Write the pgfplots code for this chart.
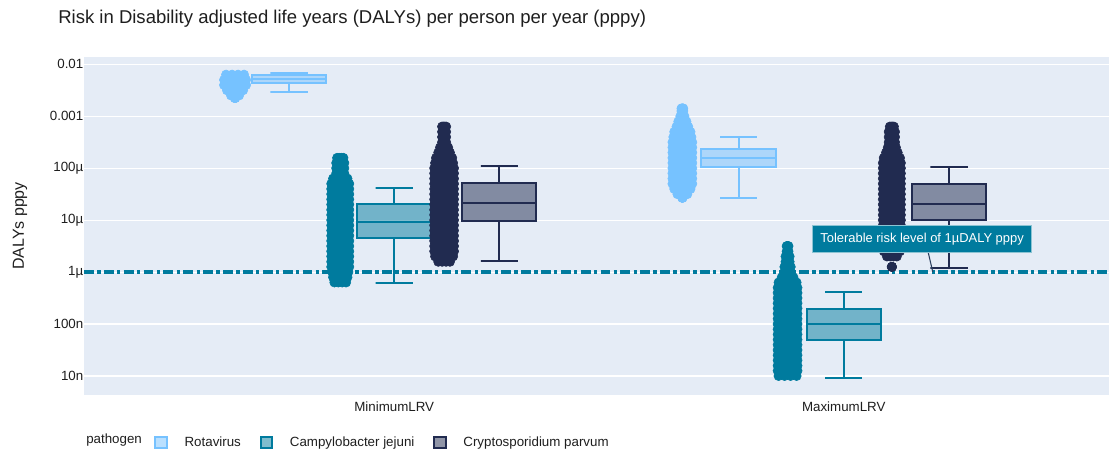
\documentclass[border=0pt]{standalone}
\usepackage{fontspec}
\setmainfont{Liberation Sans}
\usepackage{pgfplots}
\pgfplotsset{compat=1.18}
\usepackage{pgfplotstable}

\definecolor{bg}{RGB}{229,236,246}
\definecolor{rota}{RGB}{118,194,255}
\definecolor{campy}{RGB}{0,123,158}
\definecolor{crypto}{RGB}{33,43,80}
\definecolor{ink}{RGB}{30,30,30}
\definecolor{arrowc}{RGB}{42,63,95}

% jitter strips: y = DALYs pppy, w = half width of the strip (axis units)
\pgfplotstableread{
y w
6.31e-3 0.020
5.01e-3 0.0245
3.98e-3 0.0245
3.16e-3 0.018
2.51e-3 0.009
2.24e-3 0.0
}\rotaMin

\pgfplotstableread{
y w
1.58e-4 0.007
1.26e-4 0.009
1.00e-4 0.009
7.94e-5 0.009
6.31e-5 0.016
5.01e-5 0.020
3.98e-5 0.020
3.16e-5 0.020
2.51e-5 0.020
2.00e-5 0.020
1.58e-5 0.020
1.26e-5 0.020
1.00e-5 0.020
7.94e-6 0.020
6.31e-6 0.020
5.01e-6 0.020
3.98e-6 0.020
3.16e-6 0.020
2.51e-6 0.020
2.00e-6 0.020
1.58e-6 0.020
1.26e-6 0.020
1.00e-6 0.018
7.94e-7 0.016
6.31e-7 0.013
}\campyMin

\pgfplotstableread{
y w
6.31e-4 0.0045
5.01e-4 0.0045
3.98e-4 0.0045
3.16e-4 0.0045
2.51e-4 0.009
2.00e-4 0.013
1.58e-4 0.018
1.26e-4 0.020
1.00e-4 0.022
7.94e-5 0.022
6.31e-5 0.022
5.01e-5 0.022
3.98e-5 0.022
3.16e-5 0.022
2.51e-5 0.022
2.00e-5 0.022
1.58e-5 0.022
1.26e-5 0.022
1.00e-5 0.022
7.94e-6 0.022
6.31e-6 0.022
5.01e-6 0.022
3.98e-6 0.022
3.16e-6 0.022
2.51e-6 0.022
2.00e-6 0.020
1.58e-6 0.013
}\cryptoMin

\pgfplotstableread{
y w
1.41e-3 0.002
1.26e-3 0.002
1.00e-3 0.0045
7.94e-4 0.009
6.31e-4 0.013
5.01e-4 0.018
3.98e-4 0.020
3.16e-4 0.022
2.51e-4 0.022
2.00e-4 0.022
1.58e-4 0.022
1.26e-4 0.022
1.00e-4 0.022
7.94e-5 0.022
6.31e-5 0.022
5.01e-5 0.022
3.98e-5 0.018
3.16e-5 0.011
2.69e-5 0.0
}\rotaMax

\pgfplotstableread{
y w
3.16e-6 0.002
2.51e-6 0.002
2.00e-6 0.0045
1.58e-6 0.0045
1.26e-6 0.007
1.00e-6 0.007
7.94e-7 0.013
6.31e-7 0.020
5.01e-7 0.022
3.98e-7 0.022
3.16e-7 0.022
2.51e-7 0.022
2.00e-7 0.022
1.58e-7 0.022
1.26e-7 0.022
1.00e-7 0.022
7.94e-8 0.022
6.31e-8 0.022
5.01e-8 0.022
3.98e-8 0.022
3.16e-8 0.022
2.51e-8 0.022
2.00e-8 0.022
1.58e-8 0.022
1.26e-8 0.022
1.00e-8 0.020
}\campyMax

\pgfplotstableread{
y w
6.31e-4 0.0045
5.01e-4 0.007
3.98e-4 0.007
3.16e-4 0.007
2.51e-4 0.009
2.00e-4 0.013
1.58e-4 0.018
1.26e-4 0.020
1.00e-4 0.020
7.94e-5 0.020
6.31e-5 0.020
5.01e-5 0.020
3.98e-5 0.020
3.16e-5 0.020
2.51e-5 0.020
2.00e-5 0.020
1.58e-5 0.020
1.26e-5 0.020
1.00e-5 0.020
7.94e-6 0.020
6.31e-6 0.020
5.01e-6 0.020
3.98e-6 0.020
3.16e-6 0.020
2.51e-6 0.018
2.00e-6 0.011
1.26e-6 0.0
}\cryptoMax

\pgfplotsset{
  swatch/.style={legend image code/.code={%
    \draw[##1, line width=1.5pt] (0.75pt,-4.4pt) rectangle (9.5pt,4.4pt);}},
}

% strip of points: table, centre, colour
\newcommand{\strip}[3]{%
  \pgfplotsinvokeforeach{-1,-0.333,0.333,1}{%
    \addplot[forget plot, only marks, mark=*, mark size=3.5pt, color=#3]
      table[x expr={#2+(##1)*\thisrow{w}}, y=y] {#1};
  }%
}
% box: colour, position, lower whisker, q1, median, q3, upper whisker
% (box half width 0.0825, cap half width 0.041)
\newcommand{\pbox}[7]{%
  \addplot[forget plot, draw=#1, fill=#1, fill opacity=0.5, line width=1.5pt]
    table[x expr={#2+\thisrow{d}*0.0825}, y=y, row sep=\\]
    {d y\\ -1 #4\\ 1 #4\\ 1 #6\\ -1 #6\\} -- cycle;
  \addplot[forget plot, draw=#1, line width=1.5pt]
    table[x expr={#2+\thisrow{d}*0.0825}, y=y, row sep=\\]
    {d y\\ -1 #5\\ 1 #5\\};
  \addplot[forget plot, draw=#1, line width=1.5pt]
    table[x expr={#2+\thisrow{d}*0.0825}, y=y, row sep=\\]
    {d y\\ 0 #6\\ 0 #7\\ -0.5 #7\\ 0.5 #7\\};
  \addplot[forget plot, draw=#1, line width=1.5pt]
    table[x expr={#2+\thisrow{d}*0.0825}, y=y, row sep=\\]
    {d y\\ 0 #4\\ 0 #3\\ -0.5 #3\\ 0.5 #3\\};
}

\begin{document}
\begin{tikzpicture}
\path[use as bounding box] (0,0) rectangle (831.75pt,340.5pt);
\node[anchor=west, inner sep=0pt, text=ink, font=\fontsize{13.9}{16}\selectfont]
  at (43.5pt,326.5pt) {Risk in Disability adjusted life years (DALYs) per person per year (pppy)};
\node[anchor=west, inner sep=0pt, text=ink, font=\fontsize{10}{12}\selectfont]
  at (64.5pt,10.5pt) {pathogen};

\begin{axis}[
  at={(63pt,44.25pt)}, anchor=south west,
  width=768.75pt, height=253.5pt, scale only axis,
  ymode=log, ymin=4.3e-9, ymax=1.38e-2,
  xmin=-0.690, xmax=1.590,
  axis background/.style={fill=bg},
  axis line style={draw=none},
  major tick length=0pt, minor tick length=0pt,
  ymajorgrids, grid style={white, line width=0.8pt},
  ytick={1e-8,1e-7,1e-6,1e-5,1e-4,1e-3,1e-2},
  yticklabels={10n,100n,1µ,10µ,100µ,0.001,0.01},
  xtick={0,1},
  xticklabels={MinimumLRV,MaximumLRV},
  tick label style={font=\fontsize{10}{12}\selectfont, text=ink},
  yticklabel style={xshift=3pt},
  xticklabel style={yshift=-1.5pt},
  ylabel={DALYs pppy},
  ylabel style={at={(axis description cs:-0.0625,0.5)}, anchor=center,
    font=\fontsize{12}{14}\selectfont, text=ink},
  legend style={at={(axis description cs:0.0683,-0.1405)}, anchor=west,
    draw=none, fill=none, inner sep=0pt,
    font=\fontsize{10}{12}\selectfont, text=ink,
    /tikz/every odd column/.append style={column sep=10.5pt},
    /tikz/every even column/.append style={column sep=12pt}},
  legend columns=-1,
]
\pbox{rota}{-0.234}{2.88e-3}{4.43e-3}{5.25e-3}{6.22e-3}{6.9e-3}
\strip{\rotaMin}{-0.354}{rota}
\pbox{campy}{0}{6.08e-7}{4.6e-6}{9.3e-6}{2.02e-5}{4.22e-5}
\strip{\campyMin}{-0.120}{campy}
\pbox{crypto}{0.234}{1.64e-6}{9.8e-6}{2.11e-5}{5.13e-5}{1.12e-4}
\strip{\cryptoMin}{0.111}{crypto}

\pbox{rota}{0.766}{2.63e-5}{1.05e-4}{1.55e-4}{2.31e-4}{3.98e-4}
\strip{\rotaMax}{0.641}{rota}
\pbox{campy}{1}{9.1e-9}{4.93e-8}{9.9e-8}{1.97e-7}{4.14e-7}
\strip{\campyMax}{0.875}{campy}
\pbox{crypto}{1.234}{1.22e-6}{1.0e-5}{2.0e-5}{5.0e-5}{1.05e-4}
\strip{\cryptoMax}{1.107}{crypto}

% tolerable risk level
\addplot[forget plot, campy, line width=2.4pt,
  dash pattern=on 7.4pt off 2.5pt on 2.5pt off 2.5pt]
  coordinates {(-0.690,1e-6) (1.590,1e-6)};

\addlegendimage{swatch, draw=rota, fill=rota, fill opacity=0.5}
\addlegendentry{Rotavirus}
\addlegendimage{swatch, draw=campy, fill=campy, fill opacity=0.5}
\addlegendentry{Campylobacter jejuni}
\addlegendimage{swatch, draw=crypto, fill=crypto, fill opacity=0.5}
\addlegendentry{Cryptosporidium parvum}

\coordinate (ann) at (axis cs:1.1742,4.3e-6);
\coordinate (arrA) at (axis cs:1.188,2.36e-6);
\coordinate (arrB) at (axis cs:1.198,1e-6);
\end{axis}
% annotation above all plotted points
\draw[arrowc, line width=0.8pt] (arrA) -- (arrB);
\node[fill=campy, draw=white!55!campy, line width=0.6pt, text=white,
  minimum width=164pt, minimum height=20pt, inner sep=0pt,
  font=\fontsize{9.7}{11}\selectfont]
  at (ann) {Tolerable risk level of 1µDALY pppy};
\end{tikzpicture}
\end{document}
